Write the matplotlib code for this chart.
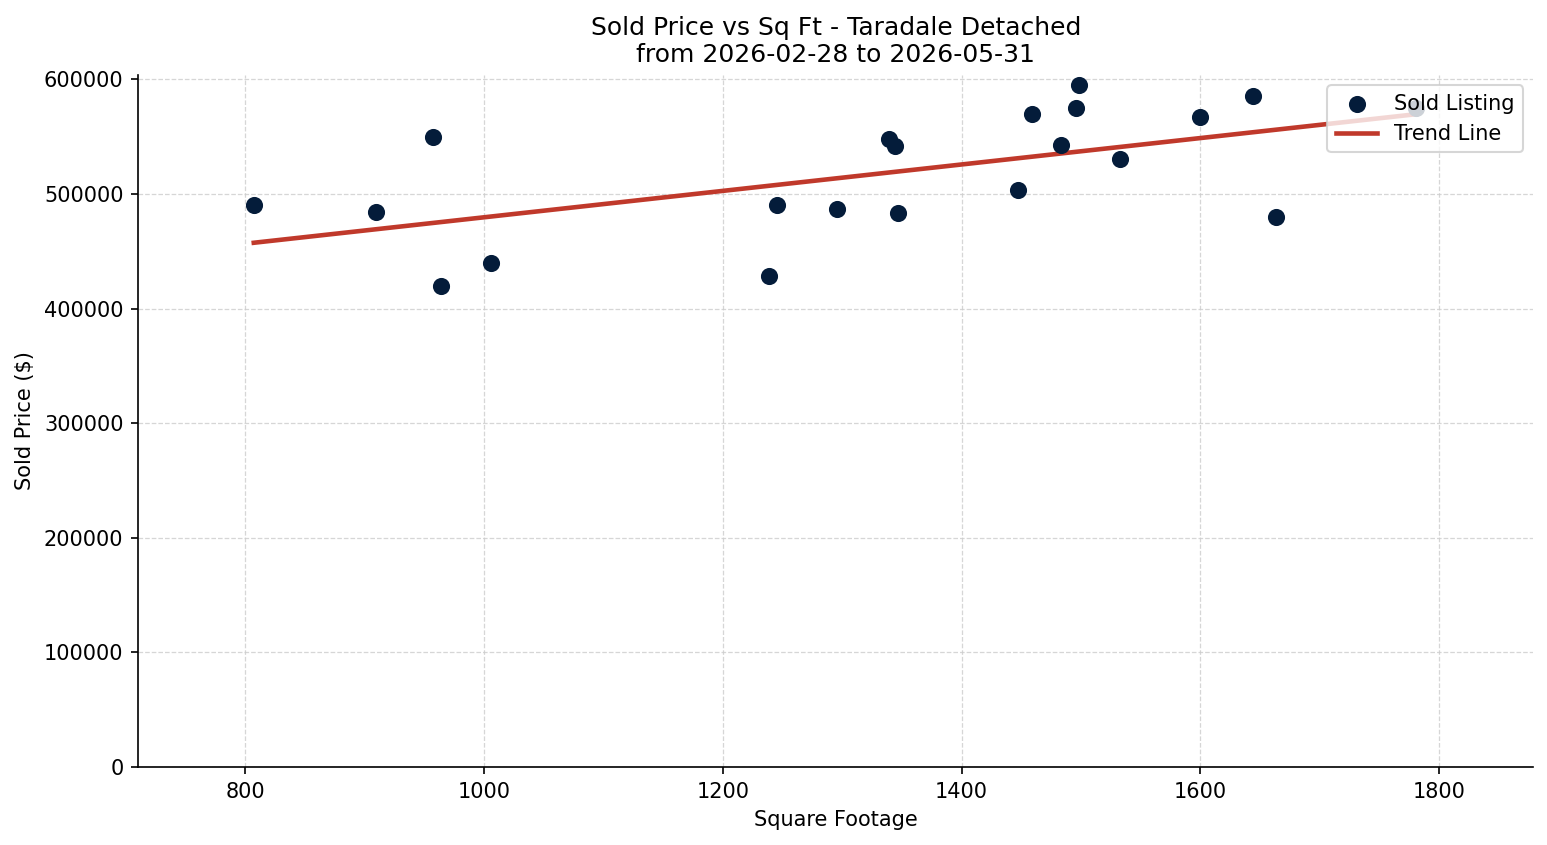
import numpy as np
import matplotlib
matplotlib.use("Agg")
import matplotlib.pyplot as plt

# --- Sold listings (square footage, sold price) ---
sqft = [807, 909, 957, 964, 1006, 1239, 1245, 1296, 1339, 1344, 1347,
        1447, 1459, 1483, 1496, 1498, 1533, 1600, 1644, 1663, 1781]
price = [490000, 484000, 550000, 420000, 440000, 428000, 490000, 487000,
         547500, 541500, 483000, 503000, 570000, 543000, 575000, 595000,
         530000, 567000, 585000, 480000, 575000]

title = "Sold Price vs Sq Ft - Taradale Detached\nfrom 2026-02-28 to 2026-05-31"

x = np.array(sqft, dtype=float)
y = np.array(price, dtype=float)

# linear trend
slope, intercept = np.polyfit(x, y, 1)
x_line = np.array([x.min(), x.max()])
y_line = slope * x_line + intercept

fig = plt.figure(figsize=(1547 / 150, 845 / 150), dpi=150)
ax = fig.add_axes([0.0892, 0.0923, 0.902, 0.819])

ax.scatter(x, y, s=52, color="#041c3a", label="Sold Listing", zorder=3)
ax.plot(x_line, y_line, color="#c0392b", linewidth=2.2, label="Trend Line", zorder=2)

ax.set_ylim(bottom=0)
ax.set_xlim(x.min() - 97, x.max() + 98)

ax.set_title(title, fontsize=12)
ax.set_xlabel("Square Footage")
ax.set_ylabel("Sold Price ($)")

ax.grid(True, linestyle="--", linewidth=0.6, color="#cccccc", alpha=0.8)
ax.set_axisbelow(True)
ax.spines["top"].set_visible(False)
ax.spines["right"].set_visible(False)

ax.legend(loc="upper right")

fig.savefig("out.png", dpi=150)
